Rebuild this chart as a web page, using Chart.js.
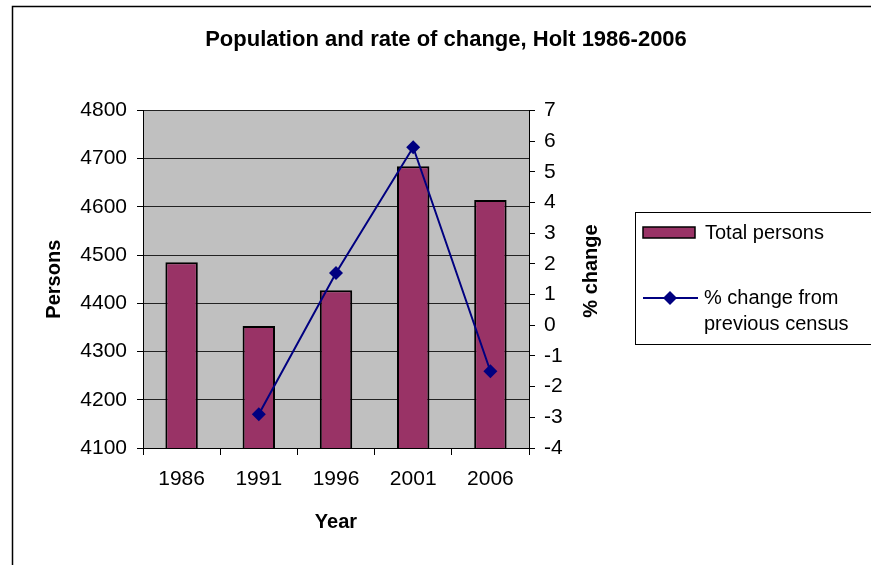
<!DOCTYPE html>
<html>
<head>
<title>Population and rate of change, Holt 1986-2006</title>
<script src="https://cdn.jsdelivr.net/npm/chart.js"></script>
<style>
  body { margin: 0; background: #fff; }
</style>
</head>
<body>
<canvas id="popChart" width="871" height="565"></canvas>
<script>
// data
const years = ['1986', '1991', '1996', '2001', '2006'];
const persons = [4485, 4353, 4427, 4684, 4614];
const pctChange = [null, -2.9, 1.7, 5.8, -1.5];
const personsRange = [4100, 4800, 100];   // min, max, step
const pctRange = [-4, 7, 1];
const seriesNames = ['Total persons', '% change from previous census'];
const legendLines = [['Total persons'], ['% change from', 'previous census']];

const FONT = 'Arial, "Liberation Sans", sans-serif';
Chart.defaults.font.family = FONT;
Chart.defaults.color = '#000';

// grey plot area, outer frame, right axis title, boxed legend
const excelBits = {
  id: 'excelBits',
  beforeDraw(chart) {
    const { ctx, chartArea: a } = chart;
    ctx.save();
    ctx.fillStyle = '#c0c0c0';
    ctx.fillRect(a.left, a.top, a.right - a.left, a.bottom - a.top);
    ctx.restore();
  },
  afterDraw(chart) {
    const { ctx } = chart;
    const bar = chart.data.datasets[1];
    const line = chart.data.datasets[0];
    ctx.save();

    ctx.strokeStyle = '#000';
    ctx.lineWidth = 1.5;
    ctx.beginPath();
    ctx.moveTo(12.5, 565);
    ctx.lineTo(12.5, 6.5);
    ctx.lineTo(871, 6.5);
    ctx.stroke();

    // right axis title reads bottom-to-top like the left one
    ctx.save();
    ctx.font = 'bold 20px ' + FONT;
    ctx.fillStyle = '#000';
    ctx.textAlign = 'center';
    ctx.textBaseline = 'middle';
    ctx.translate(591, 271);
    ctx.rotate(-Math.PI / 2);
    ctx.fillText('% change', 0, 0);
    ctx.restore();

    // legend box
    ctx.lineWidth = 1;
    ctx.strokeStyle = '#000';
    ctx.strokeRect(635.5, 212.5, 300, 132);

    ctx.fillStyle = bar.backgroundColor;
    ctx.fillRect(643, 227, 52, 11);
    ctx.lineWidth = 1.5;
    ctx.strokeRect(643, 227, 52, 11);

    ctx.strokeStyle = line.borderColor;
    ctx.lineWidth = 2;
    ctx.beginPath();
    ctx.moveTo(643, 298);
    ctx.lineTo(698, 298);
    ctx.stroke();
    ctx.fillStyle = line.borderColor;
    ctx.beginPath();
    ctx.moveTo(670, 291);
    ctx.lineTo(677, 298);
    ctx.lineTo(670, 305);
    ctx.lineTo(663, 298);
    ctx.closePath();
    ctx.fill();

    ctx.font = '20px ' + FONT;
    ctx.fillStyle = '#000';
    ctx.textAlign = 'left';
    ctx.textBaseline = 'middle';
    ctx.fillText(legendLines[0][0], 705, 233);
    ctx.fillText(legendLines[1][0], 704, 298);
    ctx.fillText(legendLines[1][1], 704, 324);
    ctx.restore();
  }
};

const plain = v => String(v);

const ctx = document.getElementById('popChart').getContext('2d');
new Chart(ctx, {
  data: {
    labels: years,
    datasets: [
      {
        type: 'line',
        label: seriesNames[1],
        data: pctChange,
        yAxisID: 'y1',
        borderColor: '#000080',
        backgroundColor: '#000080',
        borderWidth: 2,
        pointStyle: 'rectRot',
        pointRadius: 7,
        pointBorderWidth: 0,
        tension: 0,
        order: 1
      },
      {
        type: 'bar',
        label: seriesNames[0],
        data: persons,
        yAxisID: 'y',
        backgroundColor: '#993366',
        borderColor: '#000',
        borderWidth: 2,
        borderSkipped: false,
        barPercentage: 0.42,
        categoryPercentage: 1,
        order: 2
      }
    ]
  },
  options: {
    responsive: false,
    animation: false,
    layout: { padding: { left: 21, right: 0, top: 0, bottom: 0 } },
    plugins: {
      legend: { display: false },
      tooltip: { enabled: false },
      title: {
        display: true,
        text: 'Population and rate of change, Holt 1986-2006',
        color: '#000',
        font: { size: 22, weight: 'bold' },
        padding: { top: 27, bottom: 57 }
      }
    },
    scales: {
      x: {
        offset: true,
        grid: { offset: true, drawOnChartArea: false, drawTicks: true, tickLength: 7, color: '#000' },
        border: { display: true, color: '#000', width: 1 },
        ticks: { color: '#000', font: { size: 21 }, padding: 12 },
        title: { display: true, text: 'Year', color: '#000', font: { size: 20, weight: 'bold' }, padding: { bottom: 31 } },
        afterFit(s) { s.height = 117; }
      },
      y: {
        position: 'left',
        min: personsRange[0],
        max: personsRange[1],
        ticks: { stepSize: personsRange[2], color: '#000', font: { size: 21 }, padding: 10, callback: plain },
        grid: { color: '#222', lineWidth: 1, tickLength: 6, tickColor: '#000' },
        border: { color: '#000', width: 1 },
        title: { display: true, text: 'Persons', color: '#000', font: { size: 20, weight: 'bold' }, padding: { top: 21 } },
        afterFit(s) { s.width = 122; }
      },
      y1: {
        position: 'right',
        min: pctRange[0],
        max: pctRange[1],
        ticks: { stepSize: pctRange[2], color: '#000', font: { size: 21 }, padding: 9, callback: plain },
        grid: { drawOnChartArea: false, color: '#000', tickLength: 6 },
        border: { color: '#000', width: 1 },
        afterFit(s) { s.width = 342; }
      }
    }
  },
  plugins: [excelBits]
});
</script>
</body>
</html>
